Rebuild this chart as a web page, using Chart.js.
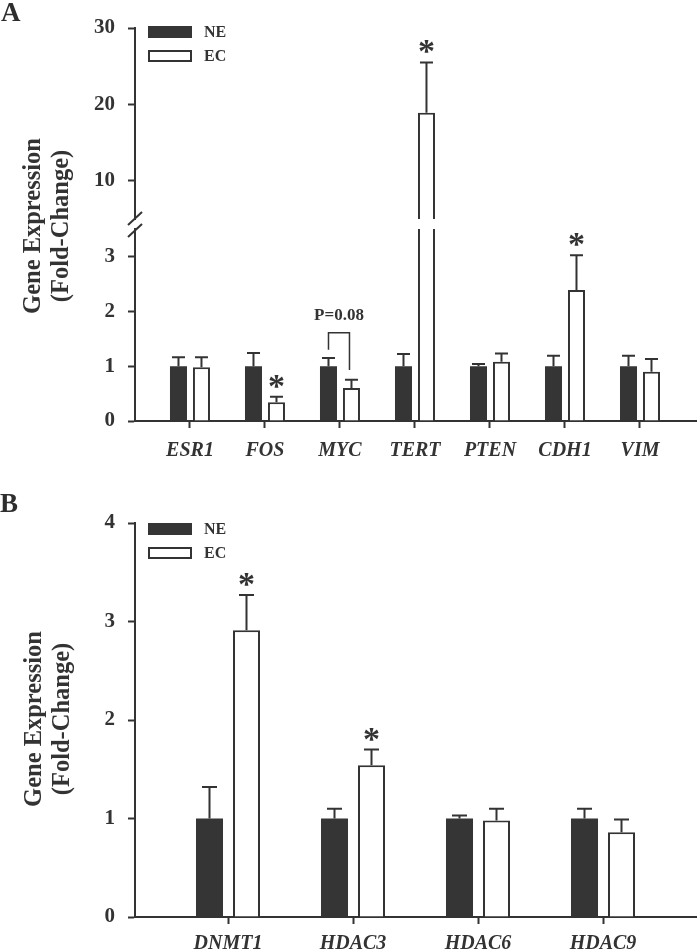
<!DOCTYPE html>
<html>
<head>
<meta charset="utf-8">
<script src="https://cdn.jsdelivr.net/npm/chart.js@4.4.1/dist/chart.umd.min.js"></script>
<style>
  html, body { margin:0; padding:0; background:#fff; }
  #wrap { position:relative; width:697px; height:951px; overflow:hidden; }
  canvas { position:absolute; left:0; }
  .panel { position:absolute; font:bold 27px "Liberation Serif","Times New Roman",serif; color:#2e2e2e; line-height:27px; }
  .ytitle { position:absolute; width:200px; height:60px; line-height:30px; text-align:center;
            font:bold 24.5px "Liberation Serif","Times New Roman",serif; color:#333; transform:rotate(-90deg); white-space:nowrap; }
</style>
</head>
<body>
<div id="wrap">
  <canvas id="a1" width="697" height="245" style="top:0px"></canvas>
  <canvas id="a2" width="697" height="275" style="top:195px"></canvas>
  <canvas id="b" width="697" height="471" style="top:480px"></canvas>
  <div class="panel" style="left:1px;top:-1px">A</div>
  <div class="panel" style="left:0px;top:490px">B</div>
  <div class="ytitle" style="left:-52px;top:196px">Gene Expression<br>(Fold-Change)</div>
  <div class="ytitle" style="left:-51px;top:689px">Gene Expression<br>(Fold-Change)</div>
</div>
<script>
// ---------------- data ----------------
const seriesNames = ['NE', 'EC'];

const genesA  = ['ESR1', 'FOS', 'MYC', 'TERT', 'PTEN', 'CDH1', 'VIM'];
const neA     = [1.00, 1.00, 1.00, 1.00, 1.00, 1.00, 1.00];
const neErrA  = [0.16, 0.24, 0.15, 0.22, 0.04, 0.19, 0.19];
const ecA     = [0.98, 0.34, 0.60, 18.9, 1.08, 2.39, 0.90];
const ecErrA  = [0.18, 0.10, 0.15, 6.6, 0.15, 0.63, 0.23];
const sigA    = [false, true, false, true, false, true, false];

const genesB  = ['DNMT1', 'HDAC3', 'HDAC6', 'HDAC9'];
const neB     = [1.00, 1.00, 1.00, 1.00];
const neErrB  = [0.32, 0.10, 0.03, 0.10];
const ecB     = [2.91, 1.54, 0.98, 0.86];
const ecErrB  = [0.36, 0.16, 0.12, 0.13];
const sigB    = [true, true, false, false];

const ticksAUpper = [10, 20, 30];
const ticksALower = [0, 1, 2, 3];
const ticksB      = [0, 1, 2, 3, 4];

// MYC comparison bracket (value units)
const bracketA = { gene: 'MYC', top: 1.61, leftEnd: 1.30, rightEnd: 0.93, label: 'P=0.08' };

// ---------------- style ----------------
const FAM = '"Liberation Serif","Times New Roman",serif';
const INK = '#333333';
const DARK = '#353535';

const extras = {
  id: 'extras',
  afterDatasetsDraw(chart, args, o) {
    const ctx = chart.ctx, a = chart.chartArea, ys = chart.scales.y;
    // error bars (clipped to plot area)
    ctx.save();
    ctx.beginPath();
    ctx.rect(a.left, a.top - 1, a.right - a.left, a.bottom - a.top + 1);
    ctx.clip();
    ctx.strokeStyle = INK; ctx.lineWidth = 2; ctx.lineCap = 'butt';
    chart.data.datasets.forEach((ds, di) => {
      const meta = chart.getDatasetMeta(di);
      ds.err.forEach((e, i) => {
        const bar = meta.data[i];
        const v = ds.data[i].y;
        const y0 = ys.getPixelForValue(v), y1 = ys.getPixelForValue(v + e);
        ctx.beginPath();
        ctx.moveTo(bar.x, y0); ctx.lineTo(bar.x, y1);
        ctx.moveTo(bar.x - o.cap / 2, y1); ctx.lineTo(bar.x + o.cap / 2, y1);
        ctx.stroke();
      });
    });
    ctx.restore();

    // significance stars
    ctx.save();
    ctx.fillStyle = INK;
    ctx.font = 'bold 34px ' + FAM;
    ctx.textAlign = 'center';
    ctx.textBaseline = 'alphabetic';
    chart.data.datasets.forEach((ds, di) => {
      if (!ds.sig) return;
      const meta = chart.getDatasetMeta(di);
      ds.sig.forEach((s, i) => {
        if (!s) return;
        const top = ys.getPixelForValue(ds.data[i].y + ds.err[i]);
        if (top < a.top || top > a.bottom) return;
        const c = top - 18;
        ctx.fillText('*', meta.data[i].x, c + 18);
      });
    });
    ctx.restore();

    // bracket
    if (o.bracket) {
      const b = o.bracket;
      const idx = o.cats.indexOf(b.gene);
      const xl = chart.getDatasetMeta(0).data[idx].x;
      const xr = chart.getDatasetMeta(1).data[idx].x - 2;
      const yt = ys.getPixelForValue(b.top);
      ctx.save();
      ctx.strokeStyle = INK; ctx.lineWidth = 1.5;
      ctx.beginPath();
      ctx.moveTo(xl, ys.getPixelForValue(b.leftEnd)); ctx.lineTo(xl, yt);
      ctx.lineTo(xr, yt); ctx.lineTo(xr, ys.getPixelForValue(b.rightEnd));
      ctx.stroke();
      ctx.fillStyle = INK; ctx.font = 'bold 17px ' + FAM;
      ctx.textAlign = 'center'; ctx.textBaseline = 'alphabetic';
      ctx.fillText(b.label, (xl + xr) / 2, yt - 13);
      ctx.restore();
    }
  },
  afterDraw(chart, args, o) {
    const ctx = chart.ctx, a = chart.chartArea;
    // legend
    if (o.legend) {
      ctx.save();
      chart.data.datasets.forEach((ds, k) => {
        const x = o.legend.x, y = o.legend.y + k * 24;
        ctx.fillStyle = ds.backgroundColor; ctx.fillRect(x, y, 44, 12);
        if (ds.borderWidth > 0) {
          ctx.strokeStyle = ds.borderColor; ctx.lineWidth = 2;
          ctx.strokeRect(x + 1, y + 1, 42, 10);
        }
        ctx.fillStyle = INK; ctx.font = 'bold 16px ' + FAM;
        ctx.textAlign = 'left'; ctx.textBaseline = 'middle';
        ctx.fillText(ds.label, x + 56, y + 7);
      });
      ctx.restore();
    }
    // axis break marks
    if (o.brk) {
      ctx.save();
      ctx.strokeStyle = INK; ctx.lineWidth = 2;
      const x = a.left, yb = a.bottom;
      [[6, -7], [18, 5]].forEach(([d1, d2]) => {
        ctx.beginPath();
        ctx.moveTo(x - 7, yb + d1); ctx.lineTo(x + 7, yb + d2);
        ctx.stroke();
      });
      ctx.restore();
    }
  }
};

function datasets(ne, neErr, ec, ecErr, sig, cp, bp) {
  return [
    { label: seriesNames[0], data: ne.map((v, i) => ({ x: i, y: v })), err: neErr,
      backgroundColor: DARK, borderColor: DARK, borderWidth: 0, clip: 0,
      categoryPercentage: cp, barPercentage: bp },
    { label: seriesNames[1], data: ec.map((v, i) => ({ x: i, y: v })), err: ecErr, sig: sig,
      backgroundColor: '#ffffff', borderColor: INK, borderWidth: 2, clip: 0,
      categoryPercentage: cp, barPercentage: bp }
  ];
}

function makeChart(id, p) {
  return new Chart(document.getElementById(id), {
    type: 'bar',
    data: { datasets: datasets(p.ne, p.neErr, p.ec, p.ecErr, p.sig, p.cp, p.bp) },
    plugins: [extras],
    options: {
      responsive: false, animation: false, events: [],
      layout: { padding: { top: p.padTop, bottom: p.padBottom, left: 0, right: 0 } },
      plugins: {
        legend: { display: false }, tooltip: { enabled: false },
        extras: { cap: p.cap, legend: p.legend, brk: p.brk, bracket: p.bracket, cats: p.cats }
      },
      scales: {
        x: {
          type: 'linear', min: p.xmin, max: p.xmax, display: p.showX, offset: false,
          afterBuildTicks: s => { s.ticks = p.cats.map((c, i) => ({ value: i })); },
          afterFit: s => { if (p.showX) s.height = p.xHeight; },
          grid: { offset: false, drawOnChartArea: false, drawTicks: true, tickLength: 7, tickColor: INK, tickWidth: 2 },
          border: { display: true, color: INK, width: 2 },
          ticks: { autoSkip: false, maxRotation: 0, padding: p.xPad, color: INK,
                   font: { family: FAM, size: 20, weight: 'bold', style: 'italic' },
                   callback: v => p.cats[v] }
        },
        y: {
          min: p.ymin, max: p.ymax,
          afterBuildTicks: s => { s.ticks = p.yTicks.map(v => ({ value: v })); },
          afterFit: s => { s.width = 135; },
          grid: { drawOnChartArea: false, drawTicks: true, tickLength: 7, tickColor: INK, tickWidth: 2 },
          border: { display: true, color: INK, width: 2 },
          ticks: { padding: 13, color: INK, font: { family: FAM, size: 21, weight: 'bold' },
                   callback: v => String(v) }
        }
      }
    }
  });
}

const common = { ne: neA, neErr: neErrA, ec: ecA, ecErr: ecErrA, sig: sigA, cats: genesA,
                 cp: 0.613, bp: 0.74, xmin: -0.733, xmax: 6.76, cap: 13 };

// Panel A, upper segment (5–30)
makeChart('a1', Object.assign({}, common, {
  ymin: 5, ymax: 30, yTicks: ticksAUpper, showX: false,
  padTop: 28, padBottom: 26, legend: { x: 148, y: 26 }, brk: true
}));

// Panel A, lower segment (0–3.5)
makeChart('a2', Object.assign({}, common, {
  ymin: 0, ymax: 3.5, yTicks: ticksALower, showX: true, xHeight: 49, xPad: 11,
  padTop: 34, padBottom: 0, bracket: bracketA
}));

// Panel B
makeChart('b', {
  ne: neB, neErr: neErrB, ec: ecB, ecErr: ecErrB, sig: sigB, cats: genesB,
  cp: 0.592, bp: 0.73, xmin: -0.744, xmax: 3.752, cap: 15,
  ymin: 0, ymax: 4, yTicks: ticksB, showX: true, xHeight: 34, xPad: 8,
  padTop: 43, padBottom: 0, legend: { x: 148, y: 43 }
});
</script>
</body>
</html>
